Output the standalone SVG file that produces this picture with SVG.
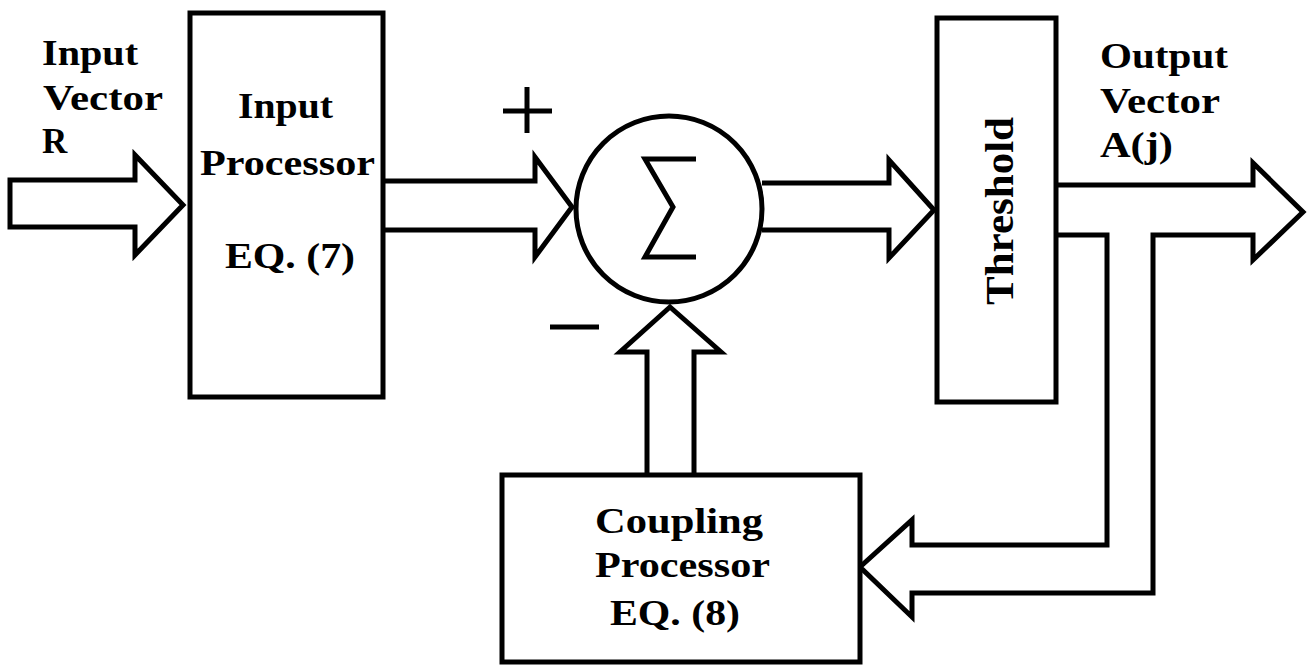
<svg xmlns="http://www.w3.org/2000/svg" width="1307" height="667" viewBox="0 0 1307 667">
<style>
.s{fill:#fff;stroke:#000;stroke-width:5;stroke-linejoin:miter}
.l{fill:none;stroke:#000;stroke-width:5}
.t{font-family:"Liberation Serif","Times New Roman",serif;font-weight:bold;font-size:35px;fill:#000}
</style>
<rect width="1307" height="667" fill="#fff"/>
<g id="connectors">
<polygon class="s" points="10,180 135,180 135,155 183,205 135,255 135,227 10,227"/>
<polyline class="s" points="383,181 535,181 535,157 572,207 535,257 535,230 383,230"/>
<polyline class="s" points="762,183 889,183 889,160 934,210 889,258 889,230 762,230"/>
<polyline class="s" points="647,475 647,352 620,352 670,307 721,352 694,352 694,475"/>
<polyline class="s" points="1056,185 1253,185 1253,163 1303,212 1253,260 1253,235 1153,235 1153,593 912,593 912,617 860,567 912,520 912,545 1107,545 1107,235 1056,235"/>
</g>
<g id="input-label">
<text class="t" x="42" y="65" textLength="96" lengthAdjust="spacingAndGlyphs">Input</text>
<text class="t" x="43" y="110" textLength="120" lengthAdjust="spacingAndGlyphs">Vector</text>
<text class="t" x="42" y="153">R</text>
</g>
<g id="input-processor">
<rect class="s" x="190" y="13" width="193" height="384"/>
<text class="t" x="238" y="118" textLength="95" lengthAdjust="spacingAndGlyphs">Input</text>
<text class="t" x="200" y="175" textLength="175" lengthAdjust="spacingAndGlyphs">Processor</text>
<text class="t" x="225" y="268" textLength="130" lengthAdjust="spacingAndGlyphs">EQ. (7)</text>
</g>
<g id="sum">
<circle class="s" cx="669" cy="209" r="93"/>
<polyline class="l" points="696,159 645,159 673,207 645,257 696,257"/>
<line class="l" x1="527" y1="87" x2="527" y2="133"/>
<line class="l" x1="503" y1="111" x2="552" y2="111"/>
<line class="l" x1="550" y1="327" x2="599" y2="327"/>
</g>
<g id="threshold">
<rect class="s" x="937" y="18" width="119" height="384"/>
<text class="t" style="font-size:39px" transform="translate(1013,305) rotate(-90)" textLength="188" lengthAdjust="spacingAndGlyphs">Threshold</text>
</g>
<g id="output-label">
<text class="t" x="1100" y="68" textLength="128" lengthAdjust="spacingAndGlyphs">Output</text>
<text class="t" x="1100" y="113" textLength="120" lengthAdjust="spacingAndGlyphs">Vector</text>
<text class="t" x="1100" y="157" textLength="73" lengthAdjust="spacingAndGlyphs">A(j)</text>
</g>
<g id="coupling-processor">
<rect class="s" x="502" y="475" width="358" height="187"/>
<text class="t" x="595" y="533" textLength="168" lengthAdjust="spacingAndGlyphs">Coupling</text>
<text class="t" x="595" y="577" textLength="175" lengthAdjust="spacingAndGlyphs">Processor</text>
<text class="t" x="610" y="625" textLength="130" lengthAdjust="spacingAndGlyphs">EQ. (8)</text>
</g>
</svg>
